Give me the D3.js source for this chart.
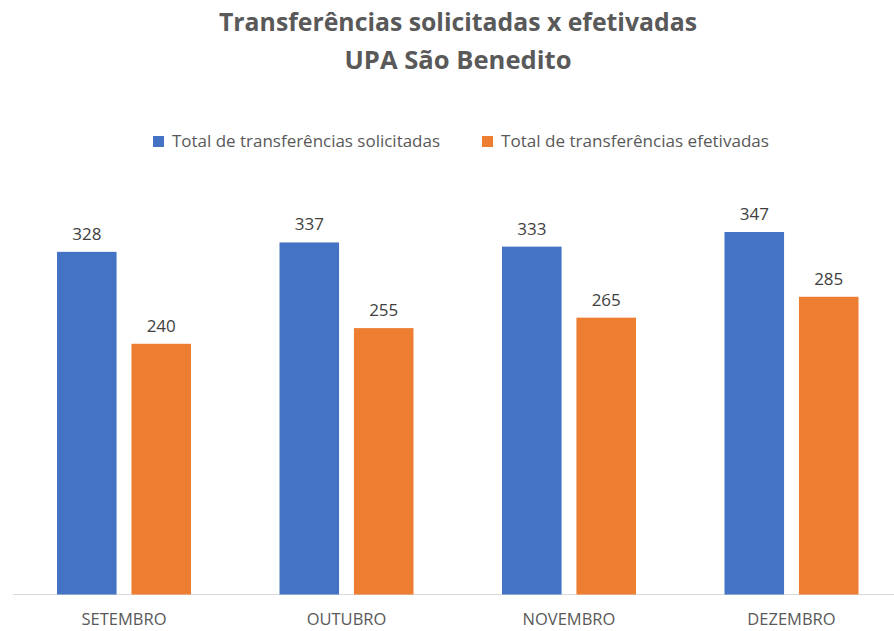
<!DOCTYPE html>
<html>
<head>
<meta charset="utf-8">
<script src="https://cdn.jsdelivr.net/npm/d3@7"></script>
<style>
  body { margin: 0; background: #fff; }
  text { font-family: "Open Sans", "Noto Sans", sans-serif; }
</style>
</head>
<body>
<div id="chart"></div>
<script>
// data
var months = ["SETEMBRO", "OUTUBRO", "NOVEMBRO", "DEZEMBRO"];
var solicitadas = [328, 337, 333, 347];
var efetivadas = [240, 255, 265, 285];
var seriesNames = ["Total de transferências solicitadas", "Total de transferências efetivadas"];
var colors = ["#4472C4", "#ED7D31"];

var width = 894, height = 631;
var baseY = 594.5;

var svg = d3.select("#chart").append("svg")
    .attr("width", width)
    .attr("height", height);

// title
svg.append("text")
    .attr("x", 458).attr("y", 31)
    .attr("text-anchor", "middle")
    .attr("font-size", 25)
    .attr("font-weight", "bold")
    .attr("fill", "#595959")
    .attr("textLength", 478)
    .attr("lengthAdjust", "spacingAndGlyphs")
    .text("Transferências solicitadas x efetivadas");
svg.append("text")
    .attr("x", 458).attr("y", 69)
    .attr("text-anchor", "middle")
    .attr("font-size", 25)
    .attr("font-weight", "bold")
    .attr("fill", "#595959")
    .attr("textLength", 227)
    .attr("lengthAdjust", "spacingAndGlyphs")
    .text("UPA São Benedito");

// legend
var legendX = [153, 482];
var legend = svg.selectAll(".legend")
    .data(seriesNames)
    .enter().append("g")
    .attr("class", "legend")
    .attr("transform", (d, i) => `translate(${legendX[i]}, 136)`);
legend.append("rect")
    .attr("width", 11).attr("height", 11)
    .attr("fill", (d, i) => colors[i]);
legend.append("text")
    .attr("x", 19).attr("y", 11)
    .attr("font-size", 16)
    .attr("fill", "#595959")
    .attr("textLength", 268)
    .attr("lengthAdjust", "spacingAndGlyphs")
    .text(d => d);

// scales
var x0 = d3.scaleBand()
    .domain(months)
    .range([12.75, 902.75])
    .paddingInner(0)
    .paddingOuter(0);

var x1 = d3.scaleBand()
    .domain([0, 1])
    .range([x0.bandwidth() / 2 - 67, x0.bandwidth() / 2 + 67])
    .paddingInner(0.2);

var y = d3.scaleLinear()
    .domain([0, 347])
    .range([baseY, 232]);

// baseline
svg.append("line")
    .attr("x1", 12.75).attr("x2", width)
    .attr("y1", baseY).attr("y2", baseY)
    .attr("stroke", "#D9D9D9")
    .attr("stroke-width", 1);

var rows = months.map((m, i) => ({ month: m, values: [solicitadas[i], efetivadas[i]] }));

var groups = svg.selectAll(".group")
    .data(rows)
    .enter().append("g")
    .attr("class", "group")
    .attr("transform", d => `translate(${x0(d.month)}, 0)`);

groups.selectAll("rect")
    .data(d => d.values)
    .enter().append("rect")
    .attr("x", (d, i) => x1(i))
    .attr("width", x1.bandwidth())
    .attr("y", d => y(d))
    .attr("height", d => baseY - y(d))
    .attr("fill", (d, i) => colors[i]);

groups.selectAll(".val")
    .data(d => d.values)
    .enter().append("text")
    .attr("class", "val")
    .attr("x", (d, i) => x1(i) + x1.bandwidth() / 2)
    .attr("y", d => y(d) - 12)
    .attr("text-anchor", "middle")
    .attr("font-size", 17)
    .attr("fill", "#404040")
    .text(d => d);

// category labels
svg.selectAll(".cat")
    .data(months)
    .enter().append("text")
    .attr("class", "cat")
    .attr("x", d => x0(d) + x0.bandwidth() / 2)
    .attr("y", 625)
    .attr("text-anchor", "middle")
    .attr("font-size", 16.5)
    .attr("fill", "#595959")
    .text(d => d);
</script>
</body>
</html>
